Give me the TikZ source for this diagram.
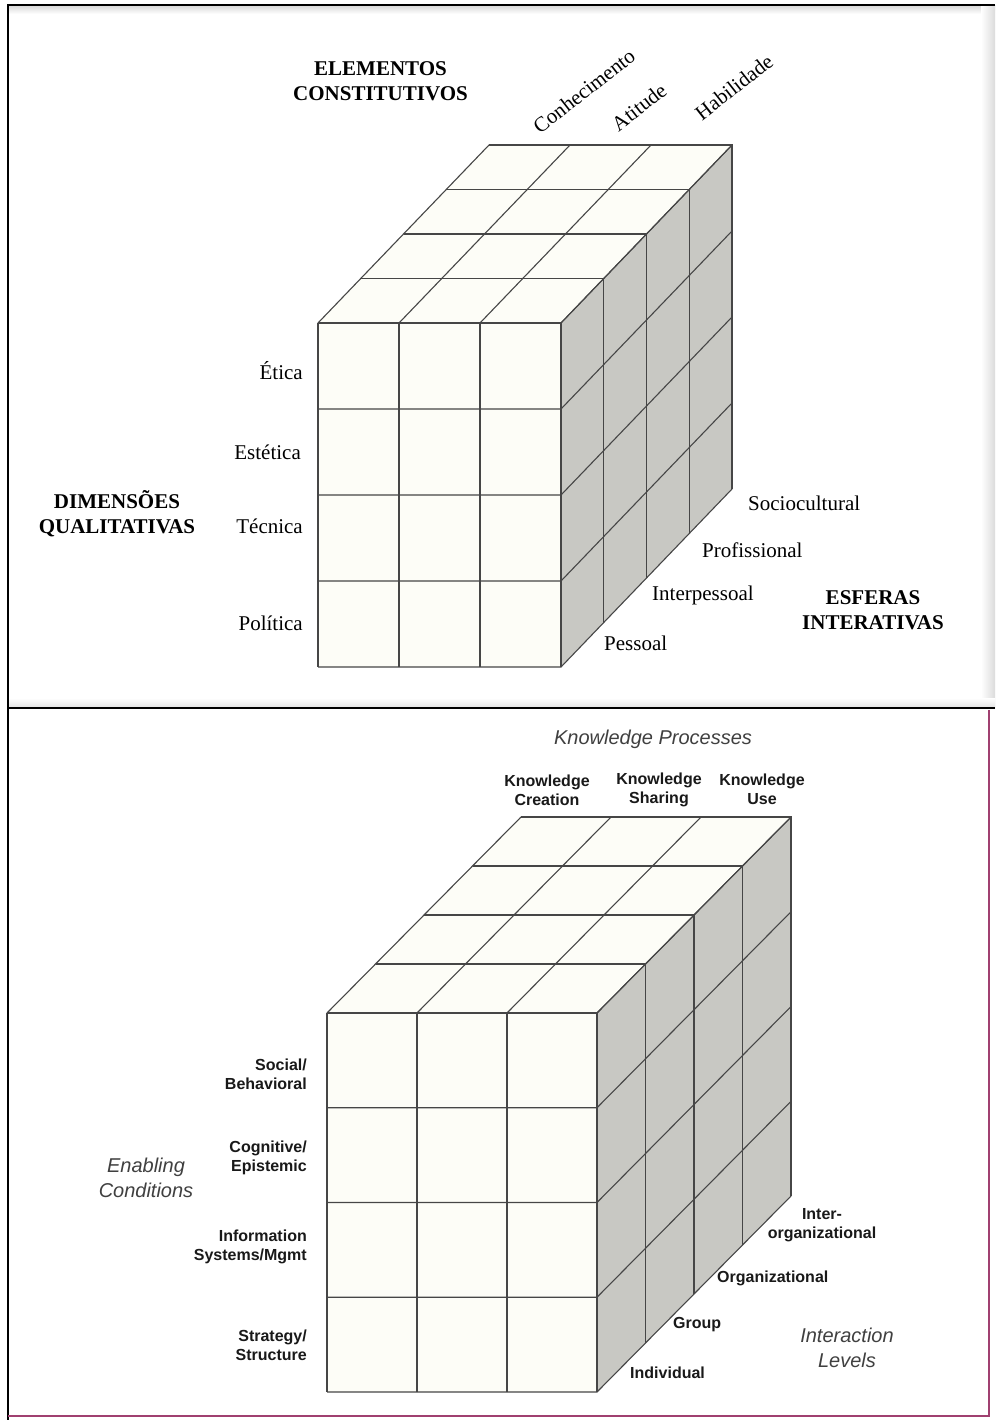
\documentclass[tikz,border=0pt]{standalone}
\usepackage{fontspec}
\setmainfont{Liberation Serif}
\newfontfamily\helv{Liberation Sans}

\definecolor{cubefill}{RGB}{253,253,247}
\definecolor{sidefill}{RGB}{200,200,195}
\definecolor{gridline}{RGB}{70,70,70}
\definecolor{framepurple}{RGB}{160,64,112}

% 3 x 4 x 4 block of cells: front corner (#1,#2), cell width #3, cell height #4,
% depth step (#5,#6)
\newcommand{\gridcube}[6]{%
  \fill[cubefill] (#1,#2) rectangle ({#1+3*#3},{#2+4*#4});
  \fill[cubefill] (#1,#2) -- ({#1+3*#3},#2) -- ({#1+3*#3+4*#5},{#2+4*#6})
      -- ({#1+4*#5},{#2+4*#6}) -- cycle;
  \fill[sidefill] ({#1+3*#3},#2) -- ({#1+3*#3+4*#5},{#2+4*#6})
      -- ({#1+3*#3+4*#5},{#2+4*#6+4*#4}) -- ({#1+3*#3},{#2+4*#4}) -- cycle;
  \foreach \i in {0,...,3}{
    \draw[cubeline] ({#1+\i*#3},#2) -- ({#1+\i*#3},{#2+4*#4});
    \draw[cubeline] ({#1+\i*#3},#2) -- ({#1+\i*#3+4*#5},{#2+4*#6});
  }
  \foreach \j in {0,...,4}{
    \draw[cubeline] (#1,{#2+\j*#4}) -- ({#1+3*#3},{#2+\j*#4})
        -- ({#1+3*#3+4*#5},{#2+\j*#4+4*#6});
  }
  \foreach \k in {0,...,4}{
    \draw[cubeline] ({#1+\k*#5},{#2+\k*#6}) -- ({#1+3*#3+\k*#5},{#2+\k*#6})
        -- ({#1+3*#3+\k*#5},{#2+\k*#6+4*#4});
  }
}

\tikzset{
  cubeline/.style={gridline, line width=1.1pt, line join=miter},
  serlabel/.style={inner sep=0pt, font=\fontsize{21}{25}\selectfont},
  serhead/.style={inner sep=0pt, align=center, font=\fontsize{21}{25}\selectfont\bfseries},
  sanslabel/.style={inner sep=0pt, text=black!90, font=\helv\fontsize{16}{19}\selectfont\bfseries},
  sanshead/.style={inner sep=0pt, align=center, text=black!75, font=\helv\fontsize{20}{24.5}\selectfont\itshape},
}

\begin{document}
\begin{tikzpicture}[x=1pt, y=-1pt]
\useasboundingbox (0,0) rectangle (995,1420);
\fill[white] (0,0) rectangle (995,1420);

% ---------- upper panel ----------
\shade[top color=black!14, bottom color=white] (9,6) rectangle (995,14);
\shade[left color=white, right color=black!14] (981,6) rectangle (995,707);
\shade[top color=white, bottom color=black!10] (9,698) rectangle (995,707);
\draw[line width=2.2pt] (995,5) -- (8,5) -- (8,708);

\gridcube{318}{323}{81}{86}{42.75}{-44.5}

\node[serhead] (elem) at (380.5,81) {ELEMENTOS\\CONSTITUTIVOS};
\node[serlabel, rotate=38] (conh) at (584,91) {Conhecimento};
\node[serlabel, rotate=38] (atit) at (639,107) {Atitude};
\node[serlabel, rotate=38] (habi) at (734,87) {Habilidade};

\node[serlabel, anchor=east] (etica) at (303,371) {Ética};
\node[serlabel, anchor=east] (estet) at (301,452) {Estética};
\node[serlabel, anchor=east] (tecn) at (303,526) {Técnica};
\node[serlabel, anchor=east] (polit) at (303,623) {Política};
\node[serhead] (dimq) at (117,514) {DIMENSÕES\\QUALITATIVAS};

\node[serlabel, anchor=west] (socio) at (748,503) {Sociocultural};
\node[serlabel, anchor=west] (profi) at (702,550) {Profissional};
\node[serlabel, anchor=west] (inter) at (652,595) {Interpessoal};
\node[serlabel, anchor=west] (pesso) at (604,643) {Pessoal};
\node[serhead] (esfe) at (873,610) {ESFERAS\\INTERATIVAS};

% ---------- lower panel ----------
\draw[line width=2.2pt] (995,708) -- (8,708) -- (8,1420);
\draw[framepurple, line width=2pt] (8,1416) -- (989,1416) -- (989,710);

\gridcube{327}{1013}{90}{94.75}{48.5}{-49}

\node[sanshead] (kproc) at (653,739) {Knowledge Processes};
\node[sanslabel, align=center] (kcre) at (547,790) {Knowledge\\Creation};
\node[sanslabel, align=center] (kshr) at (659,790) {Knowledge\\Sharing};
\node[sanslabel, align=center] (kuse) at (762,789) {Knowledge\\Use};

\node[sanslabel, align=right, anchor=east] (socb) at (307,1074) {Social/\\Behavioral};
\node[sanslabel, align=right, anchor=east] (cogn) at (307,1158) {Cognitive/\\Epistemic};
\node[sanslabel, align=right, anchor=east] (infs) at (307,1247) {Information\\Systems/Mgmt};
\node[sanslabel, align=right, anchor=east] (strt) at (307,1345) {Strategy/\\Structure};
\node[sanshead] (enab) at (146,1178) {Enabling\\Conditions};

\node[sanslabel, align=center] (inorg) at (822,1225) {Inter-\\organizational};
\node[sanslabel, anchor=west] (orgl) at (717,1278) {Organizational};
\node[sanslabel, anchor=west] (grp) at (673,1325) {Group};
\node[sanslabel, anchor=west] (indv) at (630,1373) {Individual};
\node[sanshead] (ilev) at (847,1348) {Interaction\\Levels};
\end{tikzpicture}
\end{document}
